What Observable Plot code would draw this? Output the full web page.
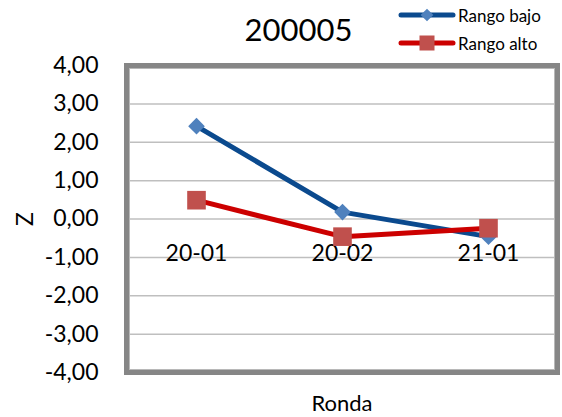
<!DOCTYPE html>
<html><head><meta charset="utf-8">
<script src="https://cdn.jsdelivr.net/npm/d3@7"></script>
<script src="https://cdn.jsdelivr.net/npm/@observablehq/plot@0.6"></script>
<style>
body{margin:0;background:#fff;font-family:Lato,"Noto Sans",sans-serif;}
#wrap{position:relative;width:562px;height:417px;}
#title{position:absolute;left:0;width:597px;top:10px;text-align:center;font-size:31px;color:#000;}
.leg{position:absolute;left:398px;font-size:17px;color:#000;display:flex;align-items:center;}
.leg svg{margin-right:2px;}
</style></head>
<body><div id="wrap"><div id="title">200005</div>
<div class="leg" style="top:4px"><svg width="58" height="22"><line x1="3" y1="11" x2="55" y2="11" stroke="#0B4A8E" stroke-width="5" stroke-linecap="round"/><rect x="24.5" y="6.5" width="9" height="9" fill="#4F81BD" transform="rotate(45 29 11)"/></svg>Rango bajo</div>
<div class="leg" style="top:32px"><svg width="58" height="22"><line x1="3" y1="11" x2="55" y2="11" stroke="#CC0000" stroke-width="5" stroke-linecap="round"/><rect x="21.5" y="3.5" width="15" height="15" fill="#C0504D"/></svg>Rango alto</div>
</div>
<script>
const rondas = ["20-01", "20-02", "21-01"];
const rangoBajo = [2.42, 0.18, -0.46];
const rangoAlto = [0.49, -0.46, -0.24];
const yTicks = [-4, -3, -2, -1, 0, 1, 2, 3, 4];

const bajo = rondas.map((r, i) => ({ronda: r, z: rangoBajo[i]}));
const alto = rondas.map((r, i) => ({ronda: r, z: rangoAlto[i]}));
const fmt = d => d.toFixed(2).replace(".", ",");

const chart = Plot.plot({
  width: 562, height: 417,
  marginLeft: 126, marginRight: 5, marginTop: 65, marginBottom: 45,
  style: {fontFamily: "Lato, 'Noto Sans', sans-serif", fontSize: "22px", color: "#000", background: "transparent"},
  x: {type: "point", domain: rondas, padding: 0.47, axis: null},
  y: {domain: [-4, 4], axis: null},
  marks: [
    Plot.ruleY(yTicks, {stroke: "#BFBFBF", strokeWidth: 1.5}),
    Plot.axisY({ticks: yTicks, tickSize: 0, tickPadding: 28, tickFormat: fmt, fontSize: 23, label: "Z", labelAnchor: "center", labelArrow: "none", labelOffset: 110}),
    Plot.axisX({tickSize: 0, tickFormat: () => "", label: "Ronda", labelAnchor: "center", labelArrow: "none", labelOffset: 38, fontSize: 22}),
    Plot.frame({stroke: "#868686", strokeWidth: 5}),
    Plot.frame({stroke: "#B8B8B8", strokeWidth: 1, inset: 3}),
    Plot.text(rondas, {x: d => d, y: () => 0, dy: 35, fontSize: 23, fill: "#000"}),
    Plot.line(bajo, {x: "ronda", y: "z", stroke: "#0B4A8E", strokeWidth: 5}),
    Plot.dot(bajo, {x: "ronda", y: "z", symbol: "diamond2", r: 7.5, fill: "#4F81BD"}),
    Plot.line(alto, {x: "ronda", y: "z", stroke: "#CC0000", strokeWidth: 5}),
    Plot.dot(alto, {x: "ronda", y: "z", symbol: "square", r: 10.5, fill: "#C0504D"})
  ]
});
document.getElementById("wrap").prepend(chart);
chart.style.position = "absolute"; chart.style.left = "0"; chart.style.top = "0";
</script></body></html>
